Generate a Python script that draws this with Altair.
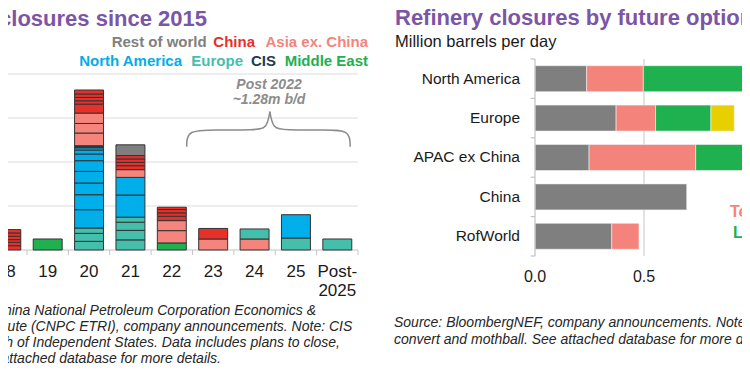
import altair as alt
import pandas as pd

FONT = "Liberation Sans"
PURPLE = "#7b55a6"
INK = "#1a1a1a"

# ---------------- Left panel: refinery closures since 2015 (million b/d) ----------------
categories = ["15", "16", "17", "18", "19", "20", "21", "22", "23", "24", "25", "Post-2025"]
regions = ["Rest of world", "China", "Asia ex. China", "North America", "Europe", "CIS", "Middle East"]
region_colors = ["#7f7f7f", "#e8302a", "#f5847d", "#00aeea", "#44bfac", "#1f3b52", "#1fb04f"]

# individual refinery segments, bottom-up within each year
seg_year = (["18"] * 6 + ["19"] + ["20"] * 20 + ["21"] * 12 + ["22"] * 7
            + ["23"] * 2 + ["24"] * 2 + ["25"] * 2 + ["Post-2025"])
seg_region = (
    ["China"] * 6
    + ["Middle East"]
    + ["Europe"] * 3 + ["North America"] * 8 + ["CIS"] + ["Asia ex. China"] * 3 + ["China"] * 5
    + ["Europe"] * 4 + ["North America"] * 2 + ["Asia ex. China"] + ["China"] * 4 + ["Rest of world"]
    + ["Middle East"] + ["Asia ex. China"] * 2 + ["China"] * 4
    + ["Asia ex. China", "China"]
    + ["Asia ex. China", "Europe"]
    + ["Europe", "North America"]
    + ["Europe"]
)
seg_value = (
    [0.049, 0.038, 0.031, 0.038, 0.038, 0.038]
    + [0.125]
    + [0.098, 0.091, 0.061, 0.208, 0.170, 0.133, 0.132, 0.122, 0.076, 0.045, 0.026, 0.023,
       0.144, 0.109, 0.118, 0.102, 0.038, 0.038, 0.039, 0.045]
    + [0.115, 0.108, 0.093, 0.057, 0.252, 0.200, 0.088, 0.045, 0.038, 0.039, 0.038, 0.122]
    + [0.080, 0.140, 0.114, 0.049, 0.039, 0.038, 0.026]
    + [0.125, 0.120]
    + [0.125, 0.114]
    + [0.136, 0.265]
    + [0.125]
)
grid_values = [0.5, 1.0, 1.5, 2.0]

# ---------------- Right panel: closures by future option (million b/d) ----------------
opt_regions = ["North America", "Europe", "APAC ex China", "China", "RofWorld"]
options = ["Full closure", "Terminal", "Low-carbon", "Mothball"]
option_colors = ["#7f7f7f", "#f4837c", "#1fb04f", "#e8cf00"]
full_closure = [0.237, 0.372, 0.248, 0.696, 0.352]
terminal = [0.260, 0.181, 0.489, 0.0, 0.125]
low_carbon = [0.600, 0.254, 0.239, 0.0, 0.0]
mothball = [0.0, 0.107, 0.0, 0.0, 0.0]
x_ticks = [0.0, 0.5, 1.0]

# ---------------- layout ----------------
W1, W2, H = 380, 354, 356
LX = alt.Scale(domain=[3.0408, 12.2251], nice=False, zero=False)
LY = alt.Scale(domain=[-1.2955, 2.75], nice=False, zero=False)
RX = alt.Scale(domain=[-0.6743, 0.9495], nice=False, zero=False)
RY = alt.Scale(domain=[-1.7944, 7.2411], nice=False, zero=False, reverse=True)


def text_layer(text, x, y, size, color, weight="normal", style="normal", align="left"):
    return alt.Chart(pd.DataFrame({"t": [text]})).mark_text(
        align=align, baseline="alphabetic", font=FONT, fontSize=size,
        fontWeight=weight, fontStyle=style, color=color, clip=True,
    ).encode(text="t:N", x=alt.value(x), y=alt.value(y))


# ---- left panel layers ----
ncat = len(categories)
seg_df = pd.DataFrame({"year": seg_year, "region": seg_region, "value": seg_value})
seg_df["idx"] = seg_df["year"].map(categories.index)
seg_df["order"] = seg_df.groupby("year").cumcount()

left_bars = (
    alt.Chart(seg_df)
    .transform_stack(stack="value", groupby=["year"], sort=[alt.SortField("order")], as_=["v0", "v1"])
    .transform_calculate(x0="datum.idx - 0.35", x1="datum.idx + 0.35")
    .mark_bar(stroke="#333333", strokeWidth=1, clip=True)
    .encode(
        x=alt.X("x0:Q", scale=LX, axis=None), x2="x1:Q",
        y=alt.Y("v0:Q", scale=LY, axis=None), y2="v1:Q",
        color=alt.Color("region:N", scale=alt.Scale(domain=regions, range=region_colors), legend=None),
    )
)

grid_df = pd.DataFrame({"g": grid_values, "xa": -0.5, "xb": ncat - 0.5})
left_grid = alt.Chart(grid_df).mark_rule(color="#dcdcdc", strokeWidth=1, clip=True).encode(
    x=alt.X("xa:Q", scale=LX, axis=None), x2="xb:Q", y=alt.Y("g:Q", scale=LY, axis=None))

base_df = pd.DataFrame({"g": [0.0], "xa": -0.5, "xb": ncat - 0.5})
left_base = alt.Chart(base_df).mark_rule(color="#c4c4c4", strokeWidth=1, clip=True).encode(
    x=alt.X("xa:Q", scale=LX, axis=None), x2="xb:Q", y=alt.Y("g:Q", scale=LY, axis=None))

tick_df = pd.DataFrame({"b": [i - 0.5 for i in range(ncat + 1)], "ya": 0.0, "yb": -0.057})
left_ticks = alt.Chart(tick_df).mark_rule(color="#c4c4c4", strokeWidth=1, clip=True).encode(
    x=alt.X("b:Q", scale=LX, axis=None), y=alt.Y("ya:Q", scale=LY, axis=None), y2="yb:Q")

lab_df = pd.DataFrame({"idx": list(range(ncat)), "lab": [c.replace("-", "-\n") for c in categories]})
left_labels = alt.Chart(lab_df).mark_text(
    align="center", baseline="alphabetic", font=FONT, fontSize=17, color=INK,
    lineBreak="\n", lineHeight=19, clip=True,
).encode(x=alt.X("idx:Q", scale=LX, axis=None), y=alt.value(268.7), text="lab:N")

# brace over the post-2022 bars
bx0, bx1, bmid = 7.36, 11.31, 9.37
foot, bar_y, tip = 1.174, 1.364, 1.572
brace_df = pd.DataFrame({
    "side": ["L"] * 6 + ["R"] * 6,
    "ord": list(range(6)) * 2,
    "bx": [bx0, bx0, bx0 + 0.68, bmid - 0.36, bmid - 0.07, bmid,
           bx1, bx1, bx1 - 0.6, bmid + 0.36, bmid + 0.07, bmid],
    "by": [foot, bar_y, bar_y, bar_y, bar_y + 0.017, tip] * 2,
})
brace = alt.Chart(brace_df).mark_line(interpolate="basis", color="#8c8c8c", strokeWidth=1.5, clip=True).encode(
    x=alt.X("bx:Q", scale=LX, axis=None), y=alt.Y("by:Q", scale=LY, axis=None),
    detail="side:N", order="ord:Q")

brace_lab = alt.Chart(pd.DataFrame({"x": [bmid - 0.02], "y": [1.835], "t": ["Post 2022\n~1.28m b/d"]})).mark_text(
    align="center", baseline="alphabetic", font=FONT, fontSize=14, fontWeight="bold",
    fontStyle="italic", color="#8c8c8c", lineBreak="\n", lineHeight=15, clip=True,
).encode(x=alt.X("x:Q", scale=LX, axis=None), y=alt.Y("y:Q", scale=LY, axis=None), text="t:N")

left_text = [
    text_layer("Refinery closures since 2015", 199, 18, 22, PURPLE, weight="bold", align="right"),
    text_layer("Rest of world", 198.7, 39.3, 15, "#808080", weight="bold", align="right"),
    text_layer("China", 247, 39.3, 15, "#e8302a", weight="bold", align="right"),
    text_layer("Asia ex. China", 360, 39.3, 15, "#f5847d", weight="bold", align="right"),
    text_layer("North America", 174, 58, 15, "#00aeea", weight="bold", align="right"),
    text_layer("Europe", 235, 58, 15, "#44bfac", weight="bold", align="right"),
    text_layer("CIS", 268, 58, 15, "#1f3b52", weight="bold", align="right"),
    text_layer("Middle East", 360, 58, 15, "#1fb04f", weight="bold", align="right"),
    text_layer("Source: BloombergNEF, China National Petroleum Corporation Economics &",
               308, 306.5, 14, "#262626", style="italic", align="right"),
    text_layer("Technology Research Institute (CNPC ETRI), company announcements. Note: CIS",
               344.3, 323, 14, "#262626", style="italic", align="right"),
    text_layer("is Commonwealth of Independent States. Data includes plans to close,",
               332, 339, 14, "#262626", style="italic", align="right"),
    text_layer("convert and mothball. See attached database for more details.",
               213, 355, 14, "#262626", style="italic", align="right"),
]

left = alt.layer(left_grid, left_base, left_ticks, left_bars, brace, brace_lab, left_labels, *left_text).properties(
    width=W1, height=H)

# ---- right panel layers ----
nreg = len(opt_regions)
rows = []
series = [full_closure, terminal, low_carbon, mothball]
for ri, reg in enumerate(opt_regions):
    for oi, opt in enumerate(options):
        rows.append({"region": reg, "ri": ri, "option": opt, "oi": oi, "value": series[oi][ri]})
opt_df = pd.DataFrame(rows)

right_bars = (
    alt.Chart(opt_df)
    .transform_stack(stack="value", groupby=["region"], sort=[alt.SortField("oi")], as_=["u0", "u1"])
    .transform_filter("datum.value > 0")
    .transform_calculate(y0="datum.ri - 0.33", y1="datum.ri + 0.33")
    .mark_bar(clip=True, stroke="#f2f2f2", strokeWidth=0.6)
    .encode(
        x=alt.X("u0:Q", scale=RX, axis=None), x2="u1:Q",
        y=alt.Y("y0:Q", scale=RY, axis=None), y2="y1:Q",
        color=alt.Color("option:N", scale=alt.Scale(domain=options, range=option_colors), legend=None),
    )
)

rgrid_df = pd.DataFrame({"g": [0.5, 1.0], "ya": -0.5, "yb": nreg - 0.5})
right_grid = alt.Chart(rgrid_df).mark_rule(color="#d9d9d9", strokeWidth=1.5, clip=True).encode(
    x=alt.X("g:Q", scale=RX, axis=None), y=alt.Y("ya:Q", scale=RY, axis=None), y2="yb:Q")

rdom_df = pd.DataFrame({"g": [0.0], "ya": -0.5, "yb": nreg - 0.5})
right_domain = alt.Chart(rdom_df).mark_rule(color="#c4c4c4", strokeWidth=1.2, clip=True).encode(
    x=alt.X("g:Q", scale=RX, axis=None), y=alt.Y("ya:Q", scale=RY, axis=None), y2="yb:Q")

rtick_df = pd.DataFrame({"b": [i - 0.5 for i in range(nreg + 1)], "xa": -0.02, "xb": 0.0})
right_ticks = alt.Chart(rtick_df).mark_rule(color="#c4c4c4", strokeWidth=1.2, clip=True).encode(
    x=alt.X("xa:Q", scale=RX, axis=None), x2="xb:Q", y=alt.Y("b:Q", scale=RY, axis=None))

rcat_df = pd.DataFrame({"ri": list(range(nreg)), "name": opt_regions})
right_cats = alt.Chart(rcat_df).mark_text(
    align="right", baseline="middle", font=FONT, fontSize=15.5, color=INK, clip=True,
).encode(x=alt.value(132), y=alt.Y("ri:Q", scale=RY, axis=None), text="name:N")

rx_df = pd.DataFrame({"v": x_ticks, "lab": [f"{v:.1f}" for v in x_ticks]})
right_xlabels = alt.Chart(rx_df).mark_text(
    align="center", baseline="alphabetic", font=FONT, fontSize=16, color=INK, clip=True,
).encode(x=alt.X("v:Q", scale=RX, axis=None), y=alt.value(273.7), text="lab:N")

right_text = [
    text_layer("Refinery closures by future options", 7, 17, 22, PURPLE, weight="bold"),
    text_layer("Million barrels per day", 7, 39, 16.5, INK),
    text_layer("Terminal", 342, 208.7, 16, "#f4837c", weight="bold"),
    text_layer("Low-carbon", 345, 230, 16, "#1fb04f", weight="bold"),
    text_layer("Source: BloombergNEF, company announcements. Note: Data includes plans to close,",
               6, 319, 14, "#262626", style="italic"),
    text_layer("convert and mothball. See attached database for more details.",
               6, 336, 14, "#262626", style="italic"),
]

right = alt.layer(right_grid, right_bars, right_domain, right_ticks, right_cats, right_xlabels, *right_text).properties(
    width=W2, height=H)

chart = (
    alt.hconcat(left, right, spacing=0)
    .resolve_scale(color="independent")
    .properties(padding=0, background="white")
    .configure_view(stroke=None)
    .configure_concat(spacing=0)
)

chart.save("out.html", embed_options={"renderer": "svg", "actions": False})
